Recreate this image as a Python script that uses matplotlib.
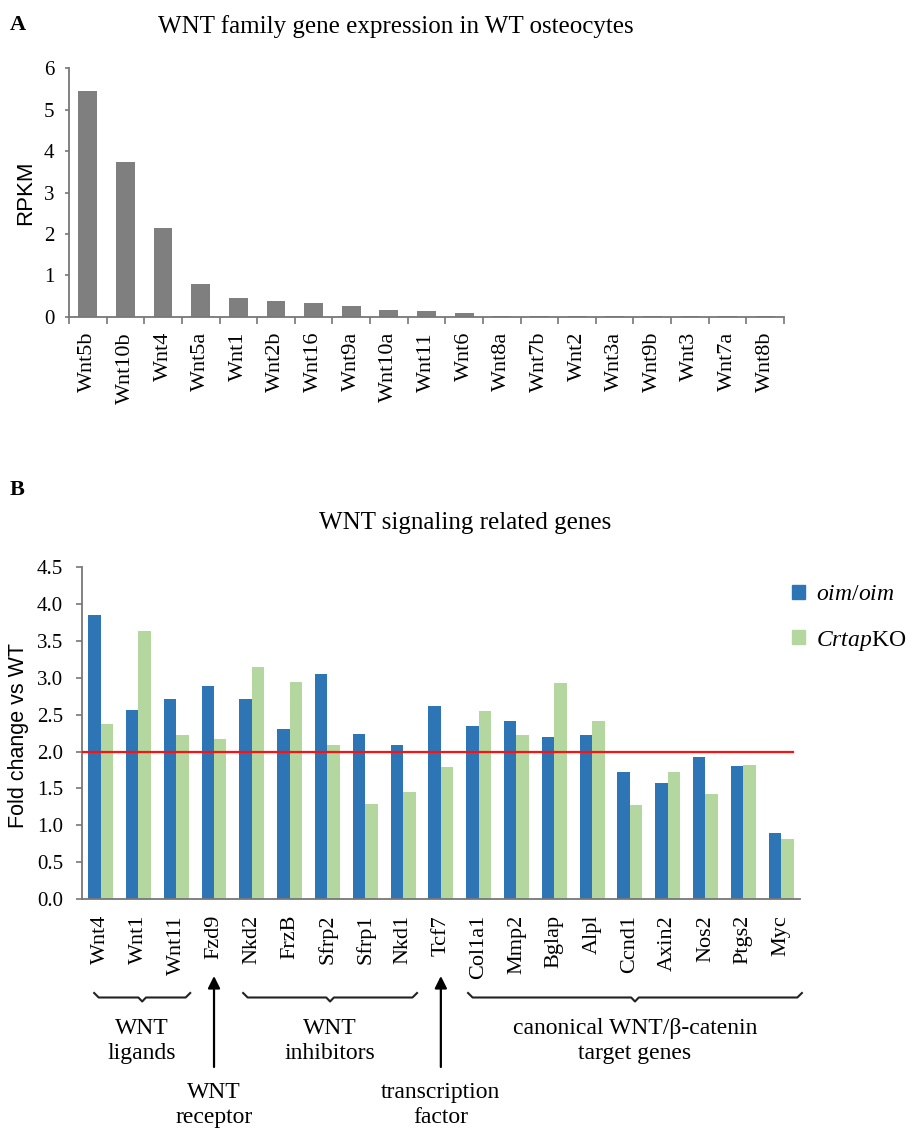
import numpy as np
import matplotlib
matplotlib.use("Agg")
import matplotlib.pyplot as plt
import matplotlib.transforms as mtransforms
from matplotlib.patches import Patch

plt.rcParams['font.family'] = ['Liberation Serif', 'DejaVu Serif']
plt.rcParams['mathtext.fontset'] = 'custom'
plt.rcParams['mathtext.it'] = 'Liberation Serif:italic'
plt.rcParams['mathtext.rm'] = 'Liberation Serif'

# ---------------- data ----------------
wnt_genes = ["Wnt5b", "Wnt10b", "Wnt4", "Wnt5a", "Wnt1", "Wnt2b", "Wnt16", "Wnt9a",
             "Wnt10a", "Wnt11", "Wnt6", "Wnt8a", "Wnt7b", "Wnt2", "Wnt3a", "Wnt9b",
             "Wnt3", "Wnt7a", "Wnt8b"]
wnt_rpkm = [5.46, 3.73, 2.14, 0.78, 0.46, 0.38, 0.34, 0.26, 0.17, 0.14, 0.08,
            0.02, 0.02, 0.01, 0.01, 0.01, 0.01, 0.005, 0.005]

sig_genes = ["Wnt4", "Wnt1", "Wnt11", "Fzd9", "Nkd2", "FrzB", "Sfrp2", "Sfrp1", "Nkd1",
             "Tcf7", "Col1a1", "Mmp2", "Bglap", "Alpl", "Ccnd1", "Axin2", "Nos2",
             "Ptgs2", "Myc"]
oim_fc = [3.85, 2.56, 2.72, 2.89, 2.71, 2.30, 3.05, 2.24, 2.09, 2.62, 2.35, 2.42,
          2.20, 2.23, 1.72, 1.57, 1.93, 1.80, 0.90]
crtap_fc = [2.37, 3.63, 2.22, 2.17, 3.15, 2.94, 2.09, 1.29, 1.45, 1.79, 2.55, 2.23,
            2.93, 2.42, 1.28, 1.72, 1.42, 1.82, 0.81]
threshold = 2.0

series_labels = [r'$\mathit{oim/oim}$', r'$\mathit{Crtap}\mathrm{KO}$']

groups = ["WNT\nligands", "WNT\ninhibitors", "canonical WNT/β-catenin\ntarget genes"]
arrows = [("WNT\nreceptor", 3), ("transcription\nfactor", 9)]

# ---------------- figure ----------------
W, H = 909, 1132
fig = plt.figure(figsize=(W / 100, H / 100), dpi=100)

def fy(y):
    return 1 - y / H

spine_col = '#777777'
gray = '#7f7f7f'
blue = '#2E75B6'
green = '#B4D7A0'

# Panel A
axA = fig.add_axes([69 / W, fy(316.7), (784 - 69) / W, (316.7 - 68.3) / H])
xa = np.arange(len(wnt_genes))
axA.bar(xa, wnt_rpkm, width=0.5, color=gray, zorder=2)
axA.set_xlim(-0.5, len(wnt_genes) - 0.5)
axA.set_ylim(0, 6)
axA.set_yticks(np.arange(0, 7, 1))
axA.set_yticklabels([str(v) for v in range(7)], fontsize=15)
axA.set_xticks(np.arange(len(wnt_genes) + 1) - 0.5)
axA.set_xticklabels([])
axA.set_xticks(xa, minor=True)
axA.set_xticklabels(wnt_genes, minor=True, rotation=90, fontsize=16, va='top', ha='center')
axA.tick_params(axis='x', which='major', length=5, width=1.2, color=spine_col, direction='out')
axA.tick_params(axis='x', which='minor', length=0, pad=11)
axA.tick_params(axis='y', length=3, width=1.2, color=spine_col, pad=7.5)
for s in ['top', 'right']:
    axA.spines[s].set_visible(False)
for s in ['left', 'bottom']:
    axA.spines[s].set_color(spine_col)
    axA.spines[s].set_linewidth(1.3)

fig.text(18 / W, fy(25), "A", fontsize=16, fontweight='bold', ha='center', va='center')
fig.text(396 / W, fy(27), "WNT family gene expression in WT osteocytes", fontsize=18,
         ha='center', va='center')
fig.text(25.5 / W, fy(193), "RPKM", rotation=90, fontsize=16, ha='center', va='center',
         family=['Liberation Sans', 'DejaVu Sans'])

# Panel B
axB = fig.add_axes([81.7 / W, fy(899), (800 - 81.7) / W, (899 - 567.3) / H])
xb = np.arange(len(sig_genes))
bw = 0.33
axB.bar(xb - bw / 2, oim_fc, width=bw, color=blue, label=series_labels[0], zorder=2)
axB.bar(xb + bw / 2, crtap_fc, width=bw, color=green, label=series_labels[1], zorder=2)
axB.axhline(threshold, xmin=0, xmax=0.99, color='#ff1010', lw=1.6, zorder=3)
axB.set_xlim(-0.5, len(sig_genes) - 0.5)
axB.set_ylim(0, 4.5)
yt = np.arange(0, 4.51, 0.5)
axB.set_yticks(yt)
axB.set_yticklabels([f"{v:.1f}" for v in yt], fontsize=15)
axB.set_xticks(xb)
axB.set_xticklabels(sig_genes, rotation=90, fontsize=16, va='top', ha='center')
axB.tick_params(axis='x', length=0, pad=11.5)
axB.tick_params(axis='y', length=4, width=1.2, color=spine_col, pad=9.5)
for s in ['top', 'right']:
    axB.spines[s].set_visible(False)
for s in ['left', 'bottom']:
    axB.spines[s].set_color(spine_col)
    axB.spines[s].set_linewidth(1.3)

fig.text(17 / W, fy(490), "B", fontsize=16, fontweight='bold', ha='center', va='center')
fig.text(465 / W, fy(523), "WNT signaling related genes", fontsize=18, ha='center', va='center')
fig.text(18.5 / W, fy(736), "Fold change vs WT", rotation=90, fontsize=15.5, ha='center',
         va='center', family=['Liberation Sans', 'DejaVu Sans'])

handles = [Patch(color=blue), Patch(color=green)]
fig.legend(handles, series_labels, loc='upper left', bbox_to_anchor=(792 / W, fy(584)),
           bbox_transform=fig.transFigure, frameon=False, fontsize=17, borderpad=0,
           borderaxespad=0, handlelength=0.55, handleheight=0.55, handletextpad=0.45,
           labelspacing=1.0)

# Annotations below panel B
tr = mtransforms.blended_transform_factory(axB.transData, fig.transFigure)
brace_spans = [(-0.17, 2.37), (3.77, 8.37), (9.72, 18.55)]
for label, (b0, b1) in zip(groups, brace_spans):
    bc = (b0 + b1) / 2
    xs = [b0, b0 + 0.12, bc - 0.1, bc, bc + 0.1, b1 - 0.12, b1]
    ys = [fy(993), fy(997.5), fy(997.5), fy(1001.5), fy(997.5), fy(997.5), fy(993)]
    axB.plot(xs, ys, color='#222222', lw=1.5, transform=tr, clip_on=False)
    axB.text(bc, fy(1041), label, transform=tr, ha='center', va='center', fontsize=17,
             linespacing=1.25)

for label, g in arrows:
    axB.annotate('', xy=(g, fy(976)), xytext=(g, fy(1067)), xycoords=tr, textcoords=tr,
                 arrowprops=dict(arrowstyle='-|>', color='black', lw=1.6, mutation_scale=18,
                                 shrinkA=0, shrinkB=0), annotation_clip=False)
    axB.text(g, fy(1105), label, transform=tr, ha='center', va='center', fontsize=17,
             linespacing=1.25)

fig.savefig("out.png", dpi=100, facecolor='white')
